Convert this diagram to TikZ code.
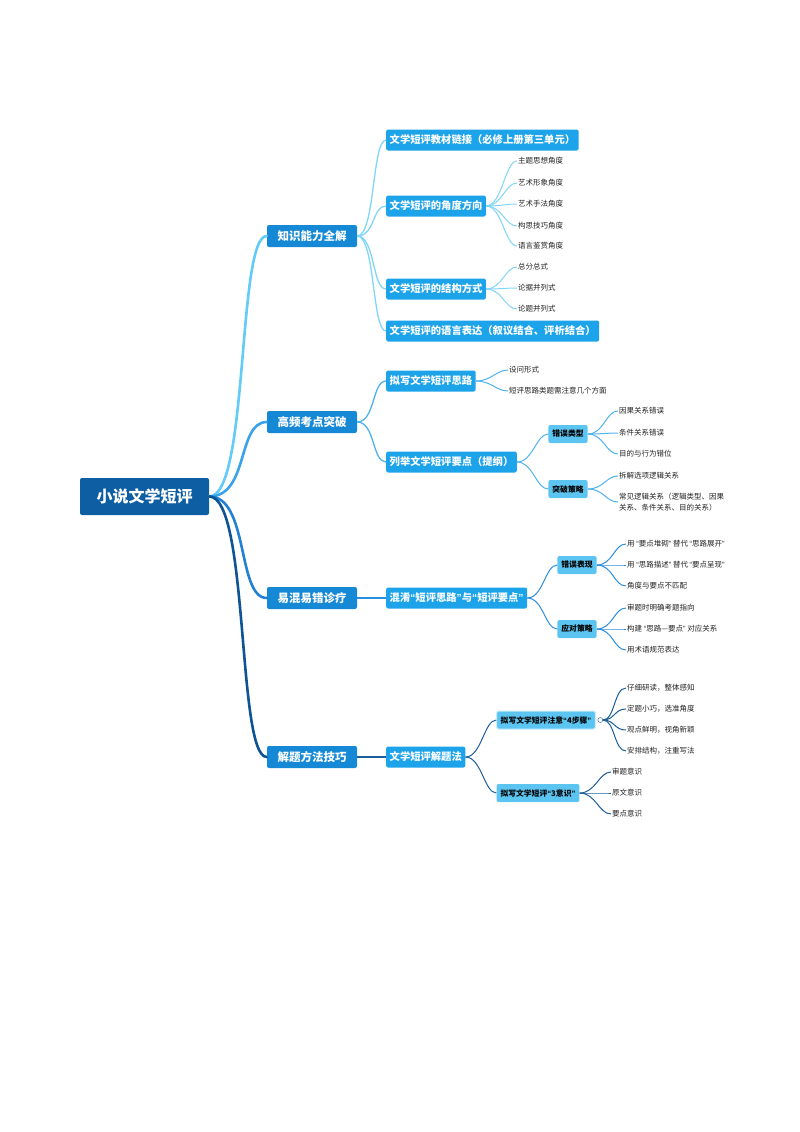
\documentclass[tikz,border=0pt]{standalone}
\usepackage{fontspec}
\setmainfont{Noto Sans CJK SC}
\newfontfamily\quotefont{Liberation Sans}
\newcommand\oq{{\quotefont “}}
\newcommand\cq{{\quotefont ”}}
\usepackage{xcolor}
\definecolor{rootBgColor}{HTML}{0E5EA4}
\definecolor{topicBgColor}{HTML}{1689D6}
\definecolor{subBgColor}{HTML}{1CA3EA}
\definecolor{tagBgColor}{HTML}{5CC4F0}
\definecolor{tagBorderColor}{HTML}{C8ECFB}
\definecolor{leafTextColor}{HTML}{222222}
\definecolor{linkColorA}{HTML}{62CBF7}
\definecolor{linkColorB}{HTML}{3AA2EA}
\definecolor{linkColorC}{HTML}{2381D4}
\definecolor{linkColorD}{HTML}{0C5494}
\definecolor{subLinkColorA}{HTML}{80D5F8}
\definecolor{subLinkColorB}{HTML}{4DB2EE}
\definecolor{subLinkColorC}{HTML}{2B8DDF}
\definecolor{subLinkColorD}{HTML}{1B5E9B}

\begin{document}
\begin{tikzpicture}[x=1pt,y=-1pt,
rootbox/.style={fill=rootBgColor, text=white, rounded corners=2pt,
  minimum width=129pt, minimum height=37pt, inner sep=0pt,
  font=\fontsize{16}{16}\selectfont\bfseries},
topicbox/.style={fill=topicBgColor, text=white, rounded corners=2pt,
  minimum width=90pt, minimum height=22pt, inner sep=0pt,
  font=\fontsize{11.5}{12}\selectfont\bfseries},
subbox/.style={fill=subBgColor, text=white, rounded corners=2pt, anchor=west,
  minimum height=21pt, inner xsep=3.5pt, inner ysep=0pt,
  font=\fontsize{10.3}{11}\selectfont\bfseries},
tagbox/.style={fill=tagBgColor, text=black, rounded corners=2pt,
  minimum height=18pt, inner xsep=4pt, inner ysep=0pt,
  font=\fontsize{7.8}{8}\selectfont\bfseries},
leaf/.style={anchor=west, inner sep=1pt, text=leafTextColor, align=left,
  font=\fontsize{7.5}{10.5}\selectfont},
rootlink/.style={line width=2.6pt, line cap=round},
toplink/.style={line width=1.3pt},
sublink/.style={line width=1pt}]

\useasboundingbox (0,0) rectangle (800,1132);

% root
\node[rootbox] (root) at (144.5,496.5) {小说文学短评};

% topic layer
\begin{scope}
\node[topicbox] (k0) at (312,236) {知识能力全解};
\node[topicbox] (h0) at (312,422) {高频考点突破};
\node[topicbox] (c0) at (312,598) {易混易错诊疗};
\node[topicbox] (m0) at (312,757) {解题方法技巧};
\end{scope}

% sub layer
\begin{scope}
\node[subbox] (k1) at (386,140) {文学短评教材链接（必修上册第三单元）};
\node[subbox] (k2) at (386,206) {文学短评的角度方向};
\node[subbox] (k3) at (386,289) {文学短评的结构方式};
\node[subbox] (k4) at (386,331) {文学短评的语言表达（叙议结合、评析结合）};
\node[subbox] (h1) at (386,381) {拟写文学短评思路};
\node[subbox] (h2) at (386,462) {列举文学短评要点（提纲）};
\node[subbox] (c1) at (386,598) {混淆\oq 短评思路\cq 与\oq 短评要点\cq};
\node[subbox] (m1) at (386,757) {文学短评解题法};
\end{scope}

% tag layer
\begin{scope}
\node[tagbox] (h21) at (568,434) {错误类型};
\node[tagbox] (h22) at (568,489) {突破策略};
\node[tagbox] (c11) at (577,565) {错误表现};
\node[tagbox] (c12) at (577,629) {应对策略};
\node[tagbox, draw=tagBorderColor, line width=1pt] (m11) at (546,720) {拟写文学短评注意\oq 4步骤\cq};
\node[tagbox] (m12) at (538,793) {拟写文学短评\oq 3意识\cq};
\node[circle, draw=subLinkColorD, fill=white, inner sep=0pt, minimum size=5pt]
  (m11c) at ([xshift=4.5pt]m11.east) {};
\end{scope}

% leaf layer
\begin{scope}
\node[leaf] (k21) at (517,161) {主题思想角度};
\node[leaf] (k22) at (517,183) {艺术形象角度};
\node[leaf] (k23) at (517,204) {艺术手法角度};
\node[leaf] (k24) at (517,226) {构思技巧角度};
\node[leaf] (k25) at (517,246) {语言鉴赏角度};
\node[leaf] (k31) at (517,267) {总分总式};
\node[leaf] (k32) at (517,288) {论据并列式};
\node[leaf] (k33) at (517,309) {论题并列式};
\node[leaf] (h11) at (508,370) {设问形式};
\node[leaf] (h12) at (508,391) {短评思路类题需注意几个方面};
\node[leaf] (h211) at (618,411) {因果关系错误};
\node[leaf] (h212) at (618,433) {条件关系错误};
\node[leaf] (h213) at (618,454) {目的与行为错位};
\node[leaf] (h221) at (618,476) {拆解选项逻辑关系};
\node[leaf] (h222) at (618,502) {常见逻辑关系（逻辑类型、因果\\关系、条件关系、目的关系）};
\node[leaf] (c111) at (626,544) {用 \oq 要点堆砌\cq\ 替代 \oq 思路展开\cq};
\node[leaf] (c112) at (626,565) {用 \oq 思路描述\cq\ 替代 \oq 要点呈现\cq};
\node[leaf] (c113) at (626,586) {角度与要点不匹配};
\node[leaf] (c121) at (626,608) {审题时明确考题指向};
\node[leaf] (c122) at (626,629) {构建 \oq 思路—要点\cq\ 对应关系};
\node[leaf] (c123) at (626,650) {用术语规范表达};
\node[leaf] (m111) at (626,688) {仔细研读，整体感知};
\node[leaf] (m112) at (626,709) {定题小巧，选准角度};
\node[leaf] (m113) at (626,730) {观点鲜明，视角新颖};
\node[leaf] (m114) at (626,751) {安排结构，注重写法};
\node[leaf] (m121) at (611,772) {审题意识};
\node[leaf] (m122) at (611,793) {原文意识};
\node[leaf] (m123) at (611,814) {要点意识};
\end{scope}

% link layer
\begin{scope}
\draw[rootlink, color=linkColorA] (root.east) .. controls +(40,0) and +(-30,0) .. (k0.west);
\draw[rootlink, color=linkColorB] (root.east) .. controls +(40,0) and +(-30,0) .. (h0.west);
\draw[rootlink, color=linkColorC] (root.east) .. controls +(40,0) and +(-30,0) .. (c0.west);
\draw[rootlink, color=linkColorD] (root.east) .. controls +(40,0) and +(-30,0) .. (m0.west);

\foreach \n in {k1,k2,k3,k4}
  \draw[toplink, color=subLinkColorA] (k0.east) .. controls +(18,0) and +(-14,0) .. (\n.west);
\foreach \n in {h1,h2}
  \draw[toplink, color=subLinkColorB] (h0.east) .. controls +(18,0) and +(-14,0) .. (\n.west);
\draw[toplink, color=subLinkColorC] (c0.east) -- (c1.west);
\draw[toplink, color=subLinkColorD] (m0.east) -- (m1.west);

\foreach \n in {k21,k22,k23,k24,k25}
  \draw[sublink, color=subLinkColorA] (k2.east) .. controls +(16,0) and +(-12,0) .. (\n.west);
\foreach \n in {k31,k32,k33}
  \draw[sublink, color=subLinkColorA] (k3.east) .. controls +(16,0) and +(-12,0) .. (\n.west);
\foreach \n in {h11,h12}
  \draw[sublink, color=subLinkColorB] (h1.east) .. controls +(16,0) and +(-12,0) .. (\n.west);
\foreach \n in {h21,h22}
  \draw[sublink, color=subLinkColorB] (h2.east) .. controls +(16,0) and +(-12,0) .. (\n.west);
\foreach \n in {h211,h212,h213}
  \draw[sublink, color=subLinkColorB] (h21.east) .. controls +(16,0) and +(-12,0) .. (\n.west);
\foreach \n in {h221,h222}
  \draw[sublink, color=subLinkColorB] (h22.east) .. controls +(16,0) and +(-12,0) .. (\n.west);
\foreach \n in {c11,c12}
  \draw[sublink, color=subLinkColorC] (c1.east) .. controls +(16,0) and +(-12,0) .. (\n.west);
\foreach \n in {c111,c112,c113}
  \draw[sublink, color=subLinkColorC] (c11.east) .. controls +(16,0) and +(-12,0) .. (\n.west);
\foreach \n in {c121,c122,c123}
  \draw[sublink, color=subLinkColorC] (c12.east) .. controls +(16,0) and +(-12,0) .. (\n.west);
\foreach \n in {m11,m12}
  \draw[sublink, color=subLinkColorD] (m1.east) .. controls +(16,0) and +(-12,0) .. (\n.west);
\foreach \n in {m111,m112,m113,m114}
  \draw[sublink, color=subLinkColorD] (m11c.east) .. controls +(12,0) and +(-12,0) .. (\n.west);
\foreach \n in {m121,m122,m123}
  \draw[sublink, color=subLinkColorD] (m12.east) .. controls +(16,0) and +(-12,0) .. (\n.west);
\end{scope}

\end{tikzpicture}
\end{document}
